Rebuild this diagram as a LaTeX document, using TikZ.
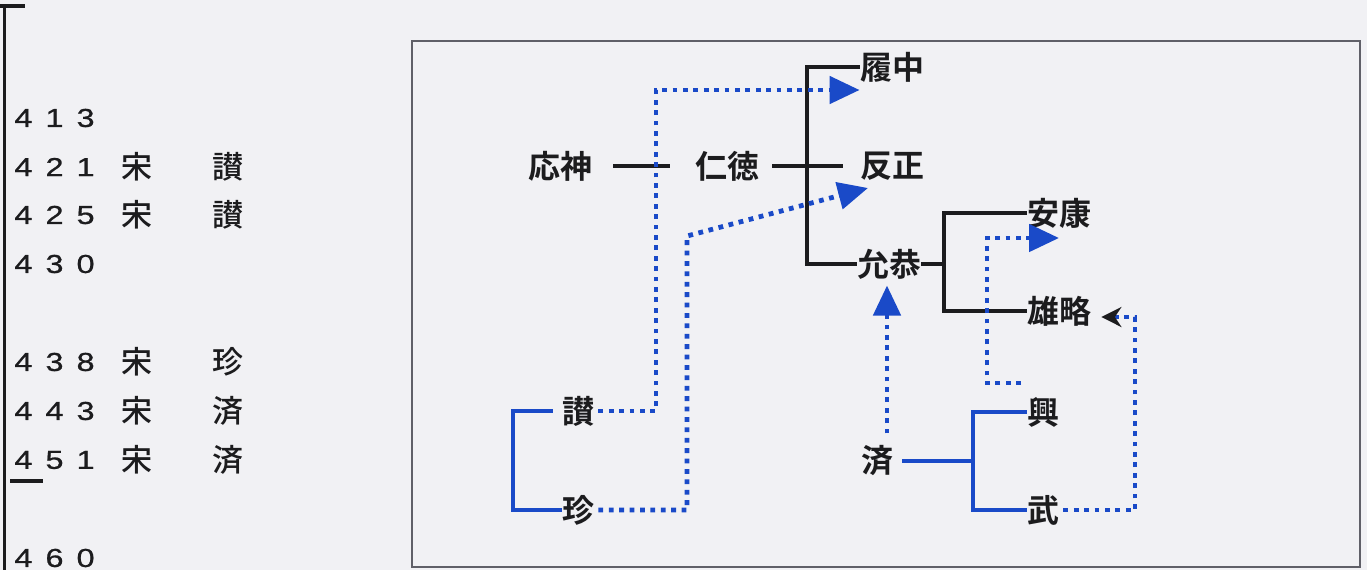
\documentclass[tikz,border=0pt]{standalone}
\usepackage{fontspec}
\setmainfont{Liberation Sans}
\newfontfamily\jpfont{Noto Sans CJK JP Medium}
\newfontfamily\jpbold{Noto Sans CJK JP Bold}
\newfontfamily\yearfont{Liberation Sans}[FakeStretch=1.25, FakeBold=0.8]
\usetikzlibrary{arrows.meta, calc}
\definecolor{woBlue}{RGB}{26,74,200}
\definecolor{woInk}{RGB}{28,28,30}
\definecolor{woPaper}{RGB}{241,241,244}
\definecolor{woFrame}{RGB}{96,96,104}

\begin{document}
\begin{tikzpicture}[x=0.5pt, y=-0.5pt,
    ruler/.style={inner sep=0pt, text=woInk, font=\jpbold\fontsize{16pt}{16pt}\selectfont},
    yearcol/.style={anchor=west, inner sep=0pt, text=woInk, font=\yearfont\fontsize{13pt}{13pt}\selectfont},
    cell/.style={inner sep=0pt, text=woInk, font=\jpfont\fontsize{15.5pt}{15.5pt}\selectfont},
    kinship/.style={draw=woInk, line width=2.4pt},
    wokin/.style={draw=woBlue, line width=2.4pt},
    match/.style={draw=woBlue, line width=2.4pt, dash pattern=on 2.4pt off 2.8pt,
      -{Triangle[length=15pt, width=13.5pt]}}
  ]
  \fill[woPaper] (0,0) rectangle (1367,570);
  \useasboundingbox (0,0) rectangle (1367,570);

  % chronology
  \draw[woInk, line width=1.2pt] (4.5,6) -- (4.5,570);
  \draw[woInk, line width=2.4pt] (0,6) -- (25,6);
  \draw[woInk, line width=2.4pt] (10,481) -- (43,481);

  \node[yearcol] (y413) at (14,118) {4\enspace1\enspace3};
  \node[yearcol] (y421) at (14,167) {4\enspace2\enspace1};
  \node[cell] (s421) at (137,167) {宋};
  \node[cell] (n421) at (228,167) {讃};
  \node[yearcol] (y425) at (14,215) {4\enspace2\enspace5};
  \node[cell] (s425) at (137,215) {宋};
  \node[cell] (n425) at (228,215) {讃};
  \node[yearcol] (y430) at (14,264) {4\enspace3\enspace0};
  \node[yearcol] (y438) at (14,362) {4\enspace3\enspace8};
  \node[cell] (s438) at (137,362) {宋};
  \node[cell] (n438) at (228,362) {珍};
  \node[yearcol] (y443) at (14,411) {4\enspace4\enspace3};
  \node[cell] (s443) at (137,411) {宋};
  \node[cell] (n443) at (228,411) {済};
  \node[yearcol] (y451) at (14,460) {4\enspace5\enspace1};
  \node[cell] (s451) at (137,460) {宋};
  \node[cell] (n451) at (228,460) {済};
  \node[yearcol] (y460) at (14,558) {4\enspace6\enspace0};

  % genealogy
  \draw[draw=woFrame, line width=1.2pt] (412,41) rectangle (1360,567);

  \node[ruler] (ojin) at (560,166) {応神};
  \node[ruler] (nintoku) at (727,166) {仁徳};
  \node[ruler] (richu) at (892,67) {履中};
  \node[ruler] (hanzei) at (892,166) {反正};
  \node[ruler] (ingyo) at (889,264) {允恭};
  \node[ruler] (anko) at (1059,213) {安康};
  \node[ruler] (yuryaku) at (1059,311) {雄略};
  \node[ruler] (san) at (578,411) {讃};
  \node[ruler] (chin) at (578,510) {珍};
  \node[ruler] (sai) at (877,461) {済};
  \node[ruler] (ko) at (1043,412) {興};
  \node[ruler] (bu) at (1043,510) {武};

  \coordinate (nj) at (807,166);
  \coordinate (ij) at (944,262);
  \coordinate (sj) at (513,460);
  \coordinate (kj) at (973,457);

  \draw[kinship, shorten <=10.5pt, shorten >=12.5pt] (ojin) -- (nintoku);
  \draw[kinship, shorten <=6.5pt, shorten >=8.5pt] (nintoku.east) -- (hanzei.west);
  \draw[kinship] (richu.west) -| (nj) |- (ingyo.west);
  \draw[kinship] (ingyo.east) -- (ingyo.east -| ij);
  \draw[kinship] (anko.west) -| (ij) |- (yuryaku.west);

  \draw[wokin, shorten <=4.5pt] (san.west) -| (sj) |- (chin.west);
  \draw[wokin, shorten <=4.5pt] (sai.east) -- (sai.east -| kj);
  \draw[wokin] (ko.west) -| (kj) |- (bu.west);

  \coordinate (h1) at (656,90);
  \coordinate (h2) at (687,236);
  \coordinate (h2e) at (868,188);
  \coordinate (h4) at (1021,383);
  \coordinate (h4c) at (987,238);
  \coordinate (h5) at (1135,317);

  \draw[match, shorten <=2pt] (san.east) -| (h1) -- (h1 -| richu.west);
  \draw[match, shorten <=2pt] (chin.east) -| (h2) -- (h2e);
  \draw[match, shorten <=6pt, shorten >=3pt] ([xshift=5pt]sai.north) -- ([xshift=5pt]sai.north |- ingyo.south);
  \draw[match] (h4) -| (h4c) -- (h4c -| anko);
  \draw[match, -{Stealth[length=10pt, width=10pt, color=woInk]}, shorten <=2pt, shorten >=5pt]
    (bu.east) -| (h5) -- (h5 -| yuryaku.east);
\end{tikzpicture}
\end{document}
